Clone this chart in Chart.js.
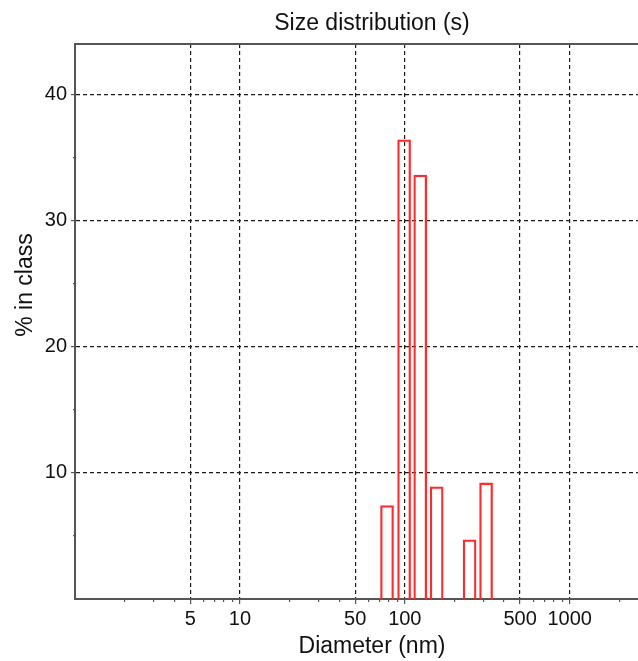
<!DOCTYPE html>
<html>
<head>
<meta charset="utf-8">
<script src="https://cdn.jsdelivr.net/npm/chart.js@4/dist/chart.umd.min.js"></script>
<style>
  html, body { margin: 0; padding: 0; background: #fff; overflow: hidden; }
  #wrap { width: 670px; height: 661px; }
</style>
</head>
<body>
<div id="wrap"><canvas id="sizeChart" width="670" height="661"></canvas></div>
<script>
// bin centres (nm) and % in class
const diameters = [78, 99, 124, 156, 247, 311];
const percents = [7.4, 36.4, 33.6, 8.9, 4.7, 9.2];

// x ticks: all decades' minor marks, labels only on some
const xTickValues = [2, 3, 4, 5, 6, 7, 8, 9, 10, 20, 30, 40, 50, 60, 70, 80, 90,
  100, 200, 300, 400, 500, 600, 700, 800, 900, 1000, 2000, 3000];
const xTickLabels = [5, 10, 50, 100, 500, 1000];

const yTickValues = [5, 10, 15, 20, 25, 30, 35, 40];
const yTickLabels = [10, 20, 30, 40];

Chart.defaults.font.family = '"Liberation Sans", Arial, sans-serif';
Chart.defaults.color = '#111';

const gridColor = '#1a1a1a';
const axisColor = '#555';

// y axis title sits higher than the plot middle in the original
const yTitlePlugin = {
  id: 'yTitle',
  afterDraw(chart) {
    const ctx = chart.ctx;
    ctx.save();
    ctx.translate(26, chart.chartArea.top + 241);
    ctx.rotate(-Math.PI / 2);
    ctx.font = '23px "Liberation Sans", Arial, sans-serif';
    ctx.fillStyle = '#111';
    ctx.textAlign = 'center';
    ctx.textBaseline = 'middle';
    ctx.fillText('% in class', 0, 0);
    ctx.restore();
  }
};

const isLabeled = (list) => (c) => c.tick && list.includes(c.tick.value);

new Chart(document.getElementById('sizeChart'), {
  type: 'bar',
  data: {
    datasets: [{
      data: diameters.map((d, i) => ({ x: d, y: percents[i] })),
      backgroundColor: 'rgba(0,0,0,0)',
      borderColor: '#ff2b2b',
      borderWidth: 1.6,
      barThickness: 13
    }]
  },
  options: {
    responsive: false,
    animation: false,
    layout: { padding: { right: 1 } },
    plugins: {
      legend: { display: false },
      tooltip: { enabled: false }
    },
    scales: {
      x: {
        type: 'logarithmic',
        position: 'bottom',
        min: 1,
        max: 4000,
        offset: false,
        afterBuildTicks: (scale) => { scale.ticks = xTickValues.map(v => ({ value: v })); },
        afterFit: (scale) => { scale.height = 62; },
        ticks: {
          autoSkip: false,
          maxRotation: 0,
          padding: 3,
          font: { size: 20 },
          callback: (v) => xTickLabels.includes(v) ? String(v) : ''
        },
        grid: {
          offset: false,
          lineWidth: 1.2,
          color: (c) => isLabeled(xTickLabels)(c) ? gridColor : 'rgba(0,0,0,0)',
          tickColor: axisColor,
          tickLength: 5,
          tickBorderDash: (c) => isLabeled(xTickLabels)(c) ? [] : [2, 20]
        },
        border: { display: true, color: axisColor, width: 2, dash: [4, 3] },
        title: {
          display: true,
          text: 'Diameter (nm)',
          font: { size: 23 },
          padding: { top: 0, bottom: 1 }
        }
      },
      top: {
        type: 'linear',
        position: 'top',
        min: 0,
        max: 1,
        afterFit: (scale) => { scale.height = 44; },
        ticks: { display: false },
        grid: { display: false },
        border: { display: true, color: axisColor, width: 2 },
        title: {
          display: true,
          text: 'Size distribution (s)',
          font: { size: 23 },
          padding: { top: 10, bottom: 0 }
        }
      },
      y: {
        min: 0,
        max: 44,
        afterBuildTicks: (scale) => { scale.ticks = yTickValues.map(v => ({ value: v })); },
        afterFit: (scale) => { scale.width = 75; },
        ticks: {
          padding: 4,
          font: { size: 20 },
          callback: (v) => yTickLabels.includes(v) ? String(v) : ''
        },
        grid: {
          lineWidth: 1.2,
          color: (c) => isLabeled(yTickLabels)(c) ? gridColor : 'rgba(0,0,0,0)',
          tickColor: axisColor,
          tickLength: 4,
          tickBorderDash: (c) => isLabeled(yTickLabels)(c) ? [] : [2, 10],
          tickBorderDashOffset: (c) => isLabeled(yTickLabels)(c) ? 0 : -2
        },
        border: { display: true, color: axisColor, width: 2, dash: [4, 3] }
      }
    }
  },
  plugins: [yTitlePlugin]
});
</script>
</body>
</html>
